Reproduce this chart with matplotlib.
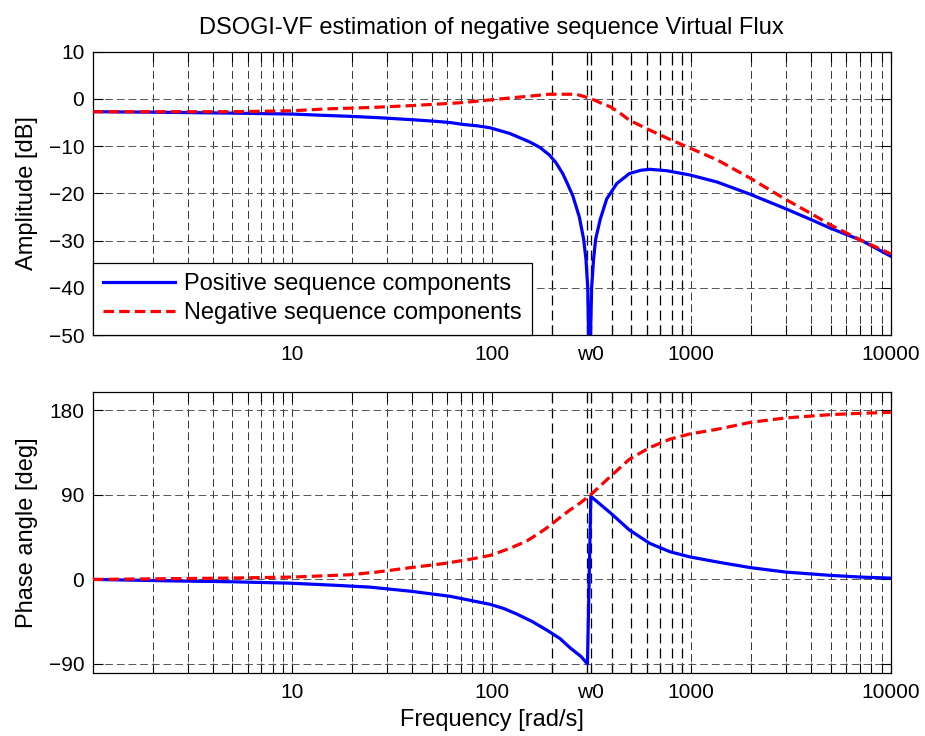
import numpy as np
import matplotlib.pyplot as plt
from matplotlib.ticker import FixedLocator, NullFormatter

plt.rcParams['font.family'] = ['Liberation Sans', 'DejaVu Sans']
plt.rcParams['font.size'] = 15

w0 = 100 * np.pi  # 50 Hz grid frequency [rad/s]

# amplitude response [dB]
f_amp_pos = [1, 2, 5, 10, 15, 20, 28, 40, 51, 62, 72, 85, 98, 123, 155, 175, 195,
             210, 227, 240, 255, 275, 289, 297, 303, 309, 317, 324, 332, 350, 377,
             424, 490, 560, 620, 755, 985, 1350, 1980, 2955, 3960, 5000, 7080, 10000]
amp_pos = [-2.7, -2.8, -3.0, -3.2, -3.5, -3.7, -4.0, -4.4, -4.7, -5.0, -5.4, -5.7,
           -6.1, -7.3, -9.1, -10.3, -11.9, -13.5, -15.8, -18.0, -20.5, -25.0, -29.7,
           -34.0, -40.0, -60.0, -40.0, -34.0, -29.7, -25.5, -21.2, -17.9, -15.8,
           -15.1, -14.9, -15.2, -16.1, -17.6, -20.2, -23.2, -25.5, -27.4, -29.9,
           -33.3]

f_amp_neg = [1, 5, 10, 15, 25, 40, 70, 98, 123, 155, 195, 265, 314, 350, 395, 440,
             490, 620, 785, 985, 1350, 1980, 2955, 3960, 5000, 7080, 10000]
amp_neg = [-2.7, -2.7, -2.5, -2.1, -1.8, -1.4, -0.8, -0.2, 0.2, 0.6, 1.0, 1.0, 0.1,
           -0.8, -1.7, -3.0, -4.5, -6.6, -8.6, -10.4, -12.9, -16.8, -21.2, -24.2,
           -26.7, -29.9, -32.8]

# phase response [deg]
f_ph_pos = [1, 2.4, 5, 9.8, 17.4, 24.5, 39, 62, 98, 115, 134, 160, 189, 220, 247,
            280, 302, 314, 395, 490, 620, 785, 985, 1350, 1980, 2955, 5000, 7080,
            10000]
ph_pos = [0, -1.5, -2.5, -4.0, -6.5, -8.2, -12.5, -18.0, -26.5, -31.0, -37.0, -45.0,
          -54.0, -63.0, -72.8, -82.0, -90.0, 88.5, 70.6, 52.7, 38.4, 29.4, 24.0,
          18.6, 12.6, 7.9, 4.3, 2.5, 1.4]

f_ph_neg = [1, 4.7, 10, 19.5, 26.5, 39, 57, 78, 98, 123, 150, 175, 195, 220, 247,
            280, 314, 395, 490, 620, 785, 985, 1350, 1980, 2955, 5000, 7080, 10000]
ph_neg = [0, 1.4, 2.5, 5.0, 7.8, 12.5, 16.8, 21.5, 25.5, 33.0, 41.0, 50.0, 57.0,
          66.0, 74.0, 82.0, 90.3, 110.0, 128.0, 140.5, 149.5, 155.0, 160.0, 167.3,
          172.0, 175.6, 177.0, 178.0]

xticks = [10, 100, w0, 1000, 10000]
xticklabels = ['10', '100', 'w0', '1000', '10000']
minor_x = [m * 10 ** k for k in range(4) for m in range(2, 10)]

grid_ls = (0, (8, 4))

fig = plt.figure(figsize=(9.25, 7.36), dpi=100)
ax1 = fig.add_axes([0.1002, 0.5448, 0.8627, 0.3849])
ax2 = fig.add_axes([0.1002, 0.0852, 0.8627, 0.3826])


def style_axes(ax, yticks):
    ax.set_xscale('log')
    ax.set_xlim(1, 10000)
    ax.xaxis.set_major_locator(FixedLocator(xticks))
    ax.set_xticklabels(xticklabels)
    ax.xaxis.set_minor_locator(FixedLocator(minor_x))
    ax.xaxis.set_minor_formatter(NullFormatter())
    ax.set_yticks(yticks)
    ax.tick_params(which='both', direction='in', top=True, right=True,
                   length=7, width=0.8)
    ax.tick_params(axis='x', which='major', pad=7)
    ax.tick_params(axis='y', pad=6)
    for s in ax.spines.values():
        s.set_linewidth(0.9)
    ax.yaxis.grid(True, ls=grid_ls, color='#555555', lw=0.7)
    # vertical grid, darker in the decade around w0
    for x in minor_x + xticks[:-1]:
        if 100 < x < 1000:
            ax.axvline(x, ls=grid_ls, color='k', lw=0.9, zorder=1)
        else:
            ax.axvline(x, ls=grid_ls, color='#333333', lw=0.7, zorder=1)


style_axes(ax1, [-50, -40, -30, -20, -10, 0, 10])
ax1.set_ylim(-50, 10)
ax1.plot(f_amp_pos, amp_pos, color='#0000ff', lw=2.3,
         label='Positive sequence components', zorder=3)
ax1.plot(f_amp_neg, amp_neg, color='#ff0000', lw=2.3, ls=(0, (3.3, 1.6)),
         label='Negative sequence components', zorder=4)
ax1.set_ylabel('Amplitude [dB]', fontsize=17)
ax1.yaxis.set_label_coords(-0.068, 0.5)
ax1.set_title('DSOGI-VF estimation of negative sequence Virtual Flux',
              fontsize=17, pad=13)
leg = ax1.legend(loc='lower left', bbox_to_anchor=(0, 0), borderaxespad=0,
                 fancybox=False, framealpha=1, edgecolor='k', fontsize=17,
                 handlelength=3.05, handletextpad=0.35, labelspacing=0.3,
                 borderpad=0.45)
leg.get_frame().set_linewidth(0.9)

style_axes(ax2, [-90, 0, 90, 180])
ax2.set_ylim(-100, 200)
ax2.plot(f_ph_pos, ph_pos, color='#0000ff', lw=2.3, zorder=3)
ax2.plot(f_ph_neg, ph_neg, color='#ff0000', lw=2.3, ls=(0, (3.3, 1.6)), zorder=4)
ax2.set_ylabel('Phase angle [deg]', fontsize=17)
ax2.yaxis.set_label_coords(-0.068, 0.5)
ax2.set_xlabel('Frequency [rad/s]', fontsize=17, labelpad=5)

fig.savefig('out.png', dpi=100)
